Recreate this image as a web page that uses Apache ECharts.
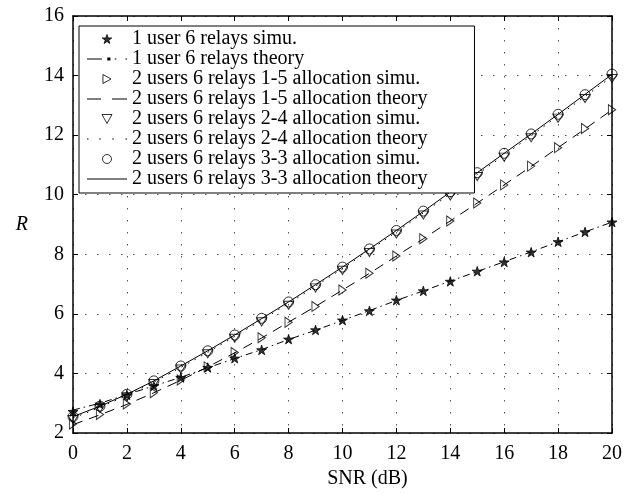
<!DOCTYPE html>
<html>
<head>
<meta charset="utf-8">
<title>R vs SNR</title>
<script src="https://cdn.jsdelivr.net/npm/echarts@6/dist/echarts.min.js"></script>
<style>
    html, body { margin: 0; padding: 0; background: #fff; }
    #chart { width: 625px; height: 494px; }
</style>
</head>
<body>
<div id="chart"></div>
<script>
(function() {
    'use strict';

    // Data (R vs SNR in dB)
    const SNR_DB = [0, 1, 2, 3, 4, 5, 6, 7, 8, 9, 10, 11, 12, 13, 14, 15, 16, 17, 18, 19, 20];

    const ONE_USER_SIMU = [2.72, 2.97, 3.28, 3.58, 3.86, 4.20, 4.51, 4.79, 5.15, 5.46, 5.79,
        6.10, 6.46, 6.77, 7.09, 7.43, 7.74, 8.07, 8.42, 8.75, 9.08];
    const ONE_USER_THEORY = [2.77, 3.00, 3.29, 3.58, 3.87, 4.19, 4.50, 4.80, 5.14, 5.45, 5.78,
        6.11, 6.45, 6.77, 7.10, 7.42, 7.75, 8.08, 8.42, 8.75, 9.08];

    const ALLOC_15_SIMU = [2.30, 2.62, 2.97, 3.35, 3.78, 4.22, 4.70, 5.20, 5.72, 6.25, 6.80,
        7.36, 7.94, 8.52, 9.12, 9.72, 10.33, 10.96, 11.58, 12.22, 12.85];
    const ALLOC_15_THEORY = [2.28, 2.61, 2.96, 3.35, 3.77, 4.22, 4.69, 5.19, 5.72, 6.25, 6.80,
        7.36, 7.94, 8.52, 9.12, 9.72, 10.33, 10.95, 11.58, 12.21, 12.85];

    const ALLOC_24_SIMU = [2.45, 2.82, 3.22, 3.66, 4.15, 4.66, 5.18, 5.73, 6.29, 6.87, 7.46,
        8.06, 8.68, 9.32, 9.96, 10.61, 11.26, 11.91, 12.57, 13.23, 13.90];
    const ALLOC_24_THEORY = [2.50, 2.86, 3.26, 3.71, 4.20, 4.71, 5.24, 5.79, 6.35, 6.93, 7.52,
        8.13, 8.75, 9.39, 10.03, 10.68, 11.33, 11.98, 12.64, 13.30, 13.97];

    const ALLOC_33_SIMU = [2.55, 2.90, 3.30, 3.75, 4.25, 4.76, 5.29, 5.85, 6.40, 6.98, 7.57,
        8.18, 8.80, 9.45, 10.10, 10.74, 11.39, 12.04, 12.70, 13.36, 14.05];
    const ALLOC_33_THEORY = [2.55, 2.90, 3.30, 3.75, 4.25, 4.76, 5.29, 5.84, 6.40, 6.98, 7.57,
        8.18, 8.80, 9.44, 10.09, 10.74, 11.39, 12.04, 12.70, 13.37, 14.04];

    const SERIES_NAMES = [
        '1 user 6 relays simu.',
        '1 user 6 relays theory',
        '2 users 6 relays 1-5 allocation simu.',
        '2 users 6 relays 1-5 allocation theory',
        '2 users 6 relays 2-4 allocation simu.',
        '2 users 6 relays 2-4 allocation theory',
        '2 users 6 relays 3-3 allocation simu.',
        '2 users 6 relays 3-3 allocation theory'
    ];

    const X_TICKS = { min: 0, max: 20, interval: 2 };
    const Y_TICKS = { min: 2, max: 16, interval: 2 };

    const FONT = 'Liberation Serif, Times New Roman, serif';

    // Marker shapes (MATLAB-like)
    const STAR = 'path://M50,0 L61,35 L98,35 L68,57 L79,91 L50,70 L21,91 L32,57 L2,35 L39,35 Z';
    const TRI_RIGHT = 'path://M0,0 L9,5 L0,10 Z';
    const TRI_DOWN = 'path://M0,0 L10,0 L5,9 Z';

    // Legend icons for the theory curves (line only)
    const ICON_DASHDOT = 'path://M0,1 L14,1 L14,2 L0,2 Z M19,0 L22,0 L22,3 L19,3 Z M26,1 L27.5,1 L27.5,2 L26,2 Z M36,1 L37.5,1 L37.5,2 L36,2 Z';
    const ICON_DASHED = 'path://M0,0 L14,0 L14,1 L0,1 Z M25,0 L40,0 L40,1 L25,1 Z';
    const ICON_DOTTED = 'path://M0,0 L1.5,0 L1.5,1 L0,1 Z M12,0 L13.5,0 L13.5,1 L12,1 Z M25,0 L26.5,0 L26.5,1 L25,1 Z M38,0 L39.5,0 L39.5,1 L38,1 Z';
    const ICON_SOLID = 'path://M0,0 L40,0 L40,1 L0,1 Z';

    /**
     * Zips the SNR axis with a list of values.
     * @param {number[]} values
     * @returns {number[][]}
     */
    function toPoints(values) {
        return SNR_DB.map((x, i) => [x, values[i]]);
    }

    function simuSeries(name, values, symbol, size, filled) {
        return {
            name: name,
            type: 'scatter',
            data: toPoints(values),
            symbol: symbol,
            symbolSize: size,
            symbolKeepAspect: true,
            itemStyle: {
                color: filled ? '#000' : 'none',
                borderColor: '#000',
                borderWidth: 1
            },
            z: 3
        };
    }

    function theorySeries(name, values, dash) {
        return {
            name: name,
            type: 'line',
            data: toPoints(values),
            symbol: 'none',
            color: '#000',
            lineStyle: { color: '#000', width: 1, type: dash },
            z: 2
        };
    }

    // Top / right axes only draw the box frame with inner ticks
    function frameAxis(position, ticks) {
        return {
            type: 'value',
            position: position,
            min: ticks.min,
            max: ticks.max,
            interval: ticks.interval,
            axisLine: { show: true, onZero: false, lineStyle: { color: '#000', width: 1.5 } },
            axisTick: { show: true, inside: true, length: 5, lineStyle: { color: '#000' } },
            axisLabel: { show: false },
            splitLine: { show: false }
        };
    }

    const chart = echarts.init(document.getElementById('chart'), null, { renderer: 'canvas' });

    const gridDots = { color: '#555', width: 1, type: [1.5, 10.5] };

    const option = {
        animation: false,
        backgroundColor: '#fff',
        grid: { left: 73, right: 7, top: 16, bottom: 61, containLabel: false },
        legend: {
            orient: 'vertical',
            left: 79,
            top: 26,
            padding: [3, 47, 4, 8],
            itemGap: 0,
            itemWidth: 40,
            itemHeight: 9,
            backgroundColor: '#fff',
            borderColor: '#000',
            borderWidth: 1,
            selectedMode: false,
            itemStyle: { borderWidth: 1 },
            textStyle: { fontFamily: FONT, fontSize: 20, color: '#000', lineHeight: 18.7 },
            data: [
                { name: SERIES_NAMES[0] },
                { name: SERIES_NAMES[1], icon: ICON_DASHDOT, itemStyle: { borderWidth: 0, color: '#000' } },
                { name: SERIES_NAMES[2] },
                { name: SERIES_NAMES[3], icon: ICON_DASHED, itemStyle: { borderWidth: 0, color: '#000' } },
                { name: SERIES_NAMES[4] },
                { name: SERIES_NAMES[5], icon: ICON_DOTTED, itemStyle: { borderWidth: 0, color: '#000' } },
                { name: SERIES_NAMES[6] },
                { name: SERIES_NAMES[7], icon: ICON_SOLID, itemStyle: { borderWidth: 0, color: '#000' } }
            ],
            z: 10
        },
        xAxis: [
            {
                type: 'value',
                min: X_TICKS.min,
                max: X_TICKS.max,
                interval: X_TICKS.interval,
                name: 'SNR (dB)',
                nameLocation: 'middle',
                nameGap: 33,
                nameTextStyle: { fontFamily: FONT, fontSize: 20, color: '#000', padding: [0, 0, 0, 50] },
                axisLine: { show: true, onZero: false, lineStyle: { color: '#000', width: 1.5 } },
                axisTick: { show: true, inside: true, length: 5, lineStyle: { color: '#000' } },
                axisLabel: { fontFamily: FONT, fontSize: 20, color: '#000', margin: 11 },
                splitLine: { show: true, lineStyle: gridDots }
            },
            frameAxis('top', X_TICKS)
        ],
        yAxis: [
            {
                type: 'value',
                min: Y_TICKS.min,
                max: Y_TICKS.max,
                interval: Y_TICKS.interval,
                name: 'R',
                nameLocation: 'middle',
                nameRotate: 0,
                nameGap: 45,
                nameTextStyle: { fontFamily: FONT, fontSize: 20, fontStyle: 'italic', color: '#000', padding: [0, 0, 14, 0] },
                axisLine: { show: true, onZero: false, lineStyle: { color: '#000', width: 1.5 } },
                axisTick: { show: true, inside: true, length: 5, lineStyle: { color: '#000' } },
                axisLabel: { fontFamily: FONT, fontSize: 20, color: '#000', margin: 9 },
                splitLine: { show: true, lineStyle: gridDots }
            },
            frameAxis('right', Y_TICKS)
        ],
        series: [
            simuSeries(SERIES_NAMES[0], ONE_USER_SIMU, STAR, 10, true),
            theorySeries(SERIES_NAMES[1], ONE_USER_THEORY, [7, 4, 1.5, 4]),
            simuSeries(SERIES_NAMES[2], ALLOC_15_SIMU, TRI_RIGHT, [8, 10], false),
            theorySeries(SERIES_NAMES[3], ALLOC_15_THEORY, [10, 7]),
            simuSeries(SERIES_NAMES[4], ALLOC_24_SIMU, TRI_DOWN, [10, 9], false),
            theorySeries(SERIES_NAMES[5], ALLOC_24_THEORY, [1.5, 6]),
            simuSeries(SERIES_NAMES[6], ALLOC_33_SIMU, 'circle', 10, false),
            theorySeries(SERIES_NAMES[7], ALLOC_33_THEORY, 'solid')
        ]
    };

    chart.setOption(option);
})();
</script>
</body>
</html>
